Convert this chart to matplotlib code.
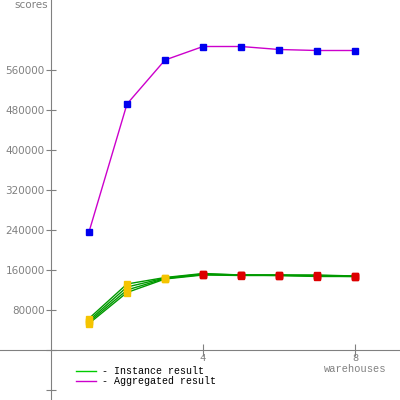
import matplotlib
matplotlib.use("Agg")
import matplotlib.pyplot as plt

# warehouses on x, scores on y
warehouses = [1, 2, 3, 4, 5, 6, 7, 8]
aggregated = [236000, 492000, 580000, 607000, 607000, 601000, 599000, 599000]
instances = [
    [63000, 132000, 145000, 153000, 150000, 150000, 150000, 148000],
    [59000, 126000, 144000, 152000, 150000, 150000, 149000, 148000],
    [56000, 120000, 143000, 151000, 150000, 149000, 148000, 147000],
    [53000, 115000, 142000, 150000, 149000, 149000, 147000, 147000],
]
# marker colour per warehouse point
point_colors = ['#f5c400', '#f5c400', '#f5c400', '#dd0000', '#dd0000', '#dd0000', '#dd0000', '#dd0000']

y_ticks = [-80000, 0, 80000, 160000, 240000, 320000, 400000, 480000, 560000]
y_labels = ['', '', '80000', '160000', '240000', '320000', '400000', '480000', '560000']
x_ticks = [4, 8]

grey = '#808080'
mono = ['Liberation Mono', 'DejaVu Sans Mono']

fig = plt.figure(figsize=(4, 4), dpi=100)
ax = fig.add_axes([0, 0, 1, 1])
ax.set_xlim(-1.34, 9.18)
ax.set_ylim(-100000, 700000)

for inst in instances:
    ax.plot(warehouses, inst, color='#009900', lw=1, zorder=2)
for xv, yv_list in zip(range(len(warehouses)), zip(*instances)):
    for yv in yv_list:
        ax.plot(warehouses[xv], yv, 's', color=point_colors[xv], ms=4, zorder=3)

ax.plot(warehouses, aggregated, color='#cc00cc', lw=1, marker='s', ms=4,
        mfc='#0000ee', mec='#0000ee', zorder=3)

# legend proxies
ax.plot([], [], color='#00cc00', lw=1, label='- Instance result')
ax.plot([], [], color='#cc00cc', lw=1, label='- Aggregated result')
ax.legend(loc='upper left', bbox_to_anchor=(0.19, 0.085), frameon=False,
          prop={'family': mono, 'size': 7.2}, handlelength=2.0, handletextpad=0.6,
          labelspacing=0, borderpad=0, borderaxespad=0)

for s in ['top', 'right']:
    ax.spines[s].set_visible(False)
ax.spines['left'].set_position(('data', 0))
ax.spines['bottom'].set_position(('data', 0))
ax.spines['left'].set_color(grey)
ax.spines['bottom'].set_color(grey)

ax.set_yticks(y_ticks)
ax.set_yticklabels(y_labels)
ax.set_xticks(x_ticks)
ax.set_xticklabels([str(v) for v in x_ticks], family=mono)
ax.tick_params(axis='y', direction='inout', length=7, color=grey, labelcolor=grey,
               labelsize=7.5, pad=1)
ax.tick_params(axis='x', direction='inout', length=9, color=grey, labelcolor=grey,
               labelsize=7.5, pad=-2)

ax.text(8, -37000, 'warehouses', family=mono, fontsize=7.5, color=grey,
        ha='center', va='center')
ax.text(-0.08, 700000, 'scores', fontsize=7.5, color=grey, ha='right', va='top')

fig.savefig('out.png', dpi=100)
